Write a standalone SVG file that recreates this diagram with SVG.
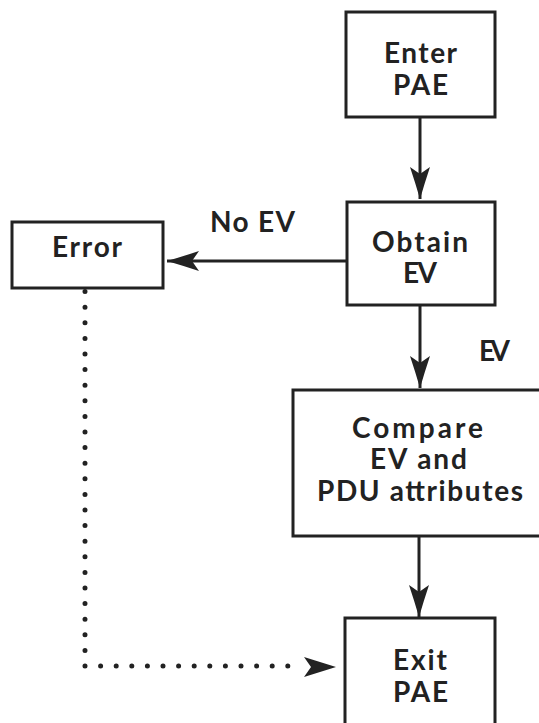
<svg xmlns="http://www.w3.org/2000/svg" width="539" height="723" viewBox="0 0 539 723">
  <defs>
    <marker id="arrow" viewBox="0 0 32 20" refX="32" refY="10" markerWidth="32" markerHeight="20" markerUnits="userSpaceOnUse" orient="auto">
      <path d="M32,10 Q15,5 0,0 L7,10 L0,20 Q15,15 32,10 Z" fill="#222"/>
    </marker>
    <style>
      .box { fill: #fff; stroke: #222; stroke-width: 3; }
      .label { font-family: Lato, "Open Sans", "Liberation Sans", sans-serif; font-weight: 700; font-size: 28px; fill: #222; text-anchor: middle; }
      .edge { stroke: #222; stroke-width: 3; fill: none; }
      .dotted { stroke: #222; stroke-width: 5; fill: none; stroke-linecap: round; stroke-dasharray: 0 15.6; }
    </style>
  </defs>
  <rect width="539" height="723" fill="#fff"/>

  <g id="connectors">
    <line class="edge" x1="420" y1="117" x2="420" y2="199" marker-end="url(#arrow)"/>
    <line class="edge" x1="347" y1="261" x2="167" y2="261" marker-end="url(#arrow)"/>
    <line class="edge" x1="420" y1="305" x2="420" y2="388" marker-end="url(#arrow)"/>
    <line class="edge" x1="419" y1="536" x2="419" y2="617" marker-end="url(#arrow)"/>
    <path class="dotted" d="M85,666 L85,290 M85,666 L298,666"/>
    <path d="M336,667 Q320,662 304,657 L311,667 L304,677 Q320,672 336,667 Z" fill="#222"/>
    <text class="label" x="252.5" y="232" textLength="85" lengthAdjust="spacing">No EV</text>
    <text class="label" x="494.5" y="361" textLength="31" lengthAdjust="spacing">EV</text>
  </g>

  <g id="enter-pae">
    <rect class="box" x="346" y="12" width="149" height="105"/>
    <text class="label" x="420.5" y="63" textLength="73" lengthAdjust="spacing">Enter</text>
    <text class="label" x="420.5" y="95" textLength="55" lengthAdjust="spacing">PAE</text>
  </g>

  <g id="obtain-ev">
    <rect class="box" x="347" y="202" width="148" height="103"/>
    <text class="label" x="420" y="252" textLength="96" lengthAdjust="spacing">Obtain</text>
    <text class="label" x="420" y="283" textLength="34" lengthAdjust="spacing">EV</text>
  </g>

  <g id="error">
    <rect class="box" x="12" y="222" width="151" height="66"/>
    <text class="label" x="87" y="257" textLength="70" lengthAdjust="spacing">Error</text>
  </g>

  <g id="compare">
    <rect class="box" x="293" y="390" width="260" height="146"/>
    <text class="label" x="417.5" y="438" textLength="131" lengthAdjust="spacing">Compare</text>
    <text class="label" x="418.5" y="469" textLength="97" lengthAdjust="spacing">EV and</text>
    <text class="label" x="420" y="500.5" textLength="206" lengthAdjust="spacing">PDU attributes</text>
  </g>

  <g id="exit-pae">
    <rect class="box" x="345" y="618" width="150" height="115"/>
    <text class="label" x="420" y="670" textLength="54" lengthAdjust="spacing">Exit</text>
    <text class="label" x="420.5" y="702" textLength="55" lengthAdjust="spacing">PAE</text>
  </g>
</svg>
